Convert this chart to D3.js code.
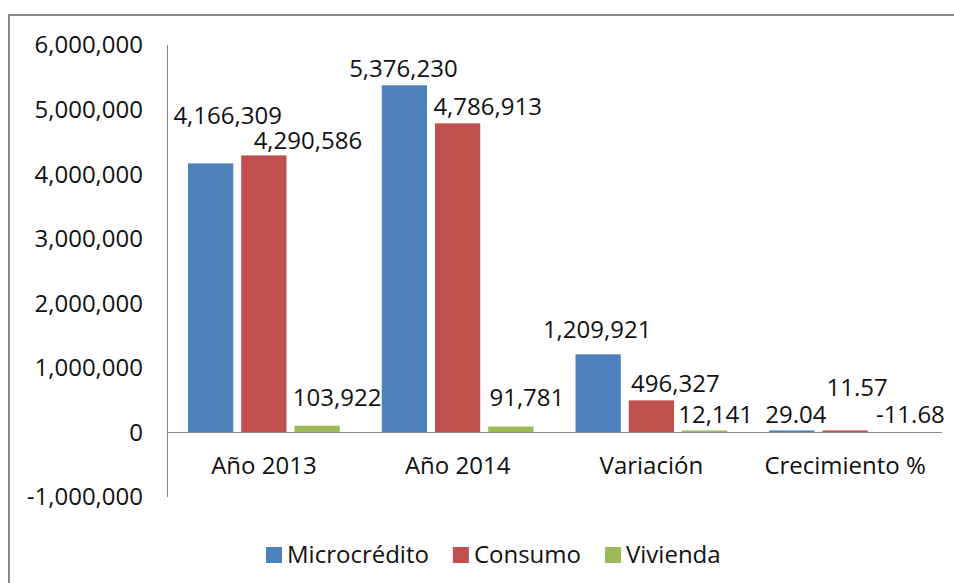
<!DOCTYPE html>
<html>
<head>
<meta charset="utf-8">
<script src="https://cdn.jsdelivr.net/npm/d3@7"></script>
<style>
  body { margin: 0; background: #fff; }
  svg text { font-family: "Open Sans", sans-serif; fill: #111; }
</style>
</head>
<body>
<div id="chart"></div>
<script>
// categories and series
var categories = ["Año 2013", "Año 2014", "Variación", "Crecimiento %"];
var seriesNames = ["Microcrédito", "Consumo", "Vivienda"];
var microcredito = [4166309, 5376230, 1209921, 29.04];
var consumo = [4290586, 4786913, 496327, 11.57];
var vivienda = [103922, 91781, 12141, -11.68];
var yTicks = [-1000000, 0, 1000000, 2000000, 3000000, 4000000, 5000000, 6000000];

var colors = ["#4f81bd", "#c0504d", "#9bbb59"];
// labels were dragged by hand in the original, [dx, dy above bar top]
var labelNudge = [
    [[17, 48], [-1, 17], [-1, 25], [4, 18]],
    [[44, 15], [30, 17], [24, 17], [12, 45]],
    [[20, 28], [16, 29], [11, 17], [12, 18]]
];

var width = 954, height = 583;
var fontSize = 24;

// plain hyphen for negatives, like the original
var locale = d3.formatLocale({ decimal: ".", thousands: ",", grouping: [3], currency: ["", ""], minus: "-" });
var fmtInt = locale.format(",");
var fmtDec = locale.format(".2f");

var svg = d3.select("#chart").append("svg")
    .attr("width", width)
    .attr("height", height);

// outer chart frame (right and bottom run off the page)
svg.append("rect")
    .attr("x", 9).attr("y", 15)
    .attr("width", 1000).attr("height", 700)
    .attr("fill", "none")
    .attr("stroke", "#898989")
    .attr("stroke-width", 2);

var plotLeft = 167, plotRight = 942;

var y = d3.scaleLinear()
    .domain([-1000000, 6000000])
    .range([497, 45]);

var x0 = d3.scaleBand()
    .domain(categories)
    .range([plotLeft, plotRight]);

var x1 = d3.scaleBand()
    .domain(seriesNames)
    .range([21, x0.bandwidth() - 21])
    .paddingInner(0.15);

var fmt = function (v) {
    return Number.isInteger(v) ? fmtInt(v) : fmtDec(v);
};

// y tick labels
svg.append("g").selectAll("text")
    .data(yTicks)
    .enter().append("text")
    .attr("x", 143)
    .attr("y", function (d) { return y(d); })
    .attr("dy", "0.35em")
    .attr("text-anchor", "end")
    .style("font-size", fontSize + "px")
    .text(function (d) { return fmtInt(d); });

var allSeries = [microcredito, consumo, vivienda];

var bars = [];
allSeries.forEach(function (vals, s) {
    vals.forEach(function (v, c) {
        bars.push({ s: s, c: c, v: v });
    });
});

svg.append("g").selectAll("rect")
    .data(bars)
    .enter().append("rect")
    .attr("x", function (d) { return x0(categories[d.c]) + x1(seriesNames[d.s]); })
    .attr("width", x1.bandwidth())
    .attr("y", function (d) {
        if (d.v >= 0) return Math.min(y(d.v), y(0) - 2);
        return y(0);
    })
    .attr("height", function (d) {
        if (d.v >= 0) return Math.max(2, y(0) - y(d.v));
        return y(d.v) - y(0);
    })
    .attr("fill", function (d) { return colors[d.s]; });

// axes lines
svg.append("line")
    .attr("x1", plotLeft + 0.5).attr("x2", plotLeft + 0.5)
    .attr("y1", y(6000000)).attr("y2", y(-1000000))
    .attr("stroke", "#868686").attr("stroke-width", 1);

svg.append("line")
    .attr("x1", plotLeft).attr("x2", plotRight)
    .attr("y1", Math.round(y(0)) + 0.5).attr("y2", Math.round(y(0)) + 0.5)
    .attr("stroke", "#868686").attr("stroke-width", 1);

// data labels
svg.append("g").selectAll("text")
    .data(bars)
    .enter().append("text")
    .attr("x", function (d) {
        return x0(categories[d.c]) + x1(seriesNames[d.s]) + x1.bandwidth() / 2 + labelNudge[d.s][d.c][0];
    })
    .attr("y", function (d) {
        return y(Math.max(0, d.v)) - labelNudge[d.s][d.c][1];
    })
    .attr("dy", "0.35em")
    .attr("text-anchor", "middle")
    .style("font-size", fontSize + "px")
    .text(function (d) { return fmt(d.v); });

// category labels
svg.append("g").selectAll("text")
    .data(categories)
    .enter().append("text")
    .attr("x", function (d) { return x0(d) + x0.bandwidth() / 2; })
    .attr("y", 466)
    .attr("dy", "0.35em")
    .attr("text-anchor", "middle")
    .style("font-size", fontSize + "px")
    .text(function (d) { return d; });

// legend
var legend = svg.append("g").attr("transform", "translate(266,555)");
var lx = 0;
seriesNames.forEach(function (name, i) {
    var g = legend.append("g").attr("transform", "translate(" + lx + ",0)");
    g.append("rect")
        .attr("x", 0).attr("y", -8)
        .attr("width", 16).attr("height", 16)
        .attr("fill", colors[i]);
    var t = g.append("text")
        .attr("x", 21)
        .attr("dy", "0.35em")
        .style("font-size", fontSize + "px")
        .text(name);
    lx += 21 + t.node().getComputedTextLength() + 24;
});
</script>
</body>
</html>
